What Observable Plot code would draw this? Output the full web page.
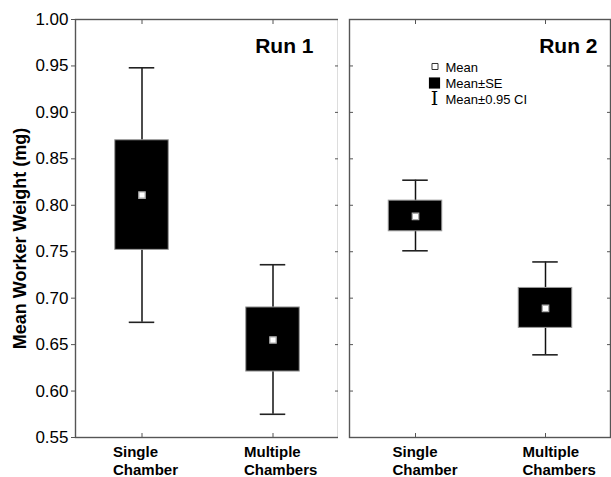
<!DOCTYPE html>
<html>
<head>
<meta charset="utf-8">
<script src="https://cdn.jsdelivr.net/npm/d3@7"></script>
<script src="https://cdn.jsdelivr.net/npm/@observablehq/plot@0.6"></script>
<style>
  html, body { margin: 0; padding: 0; background: white; }
  #wrap { display: flex; flex-direction: row; width: 611px; height: 477px; }
  #wrap svg { overflow: visible; }
</style>
</head>
<body>
<div id="wrap"></div>
<script>
// ---- data ----
const runs = ["Run 1", "Run 2"];
const categories = ["Single Chamber", "Multiple Chambers"];
// order: Run 1 Single, Run 1 Multiple, Run 2 Single, Run 2 Multiple
const means  = [0.811, 0.655, 0.788, 0.689];
const seLow  = [0.752, 0.621, 0.772, 0.668];
const seHigh = [0.870, 0.690, 0.805, 0.711];
const ciLow  = [0.674, 0.575, 0.751, 0.639];
const ciHigh = [0.948, 0.736, 0.827, 0.739];
const yTicks = [0.55, 0.60, 0.65, 0.70, 0.75, 0.80, 0.85, 0.90, 0.95, 1.00];
const yLabel = "Mean Worker Weight (mg)";
const legendLabels = ["Mean", "Mean±SE", "Mean±0.95 CI"];

const rows = runs.flatMap((run, i) => categories.map((cat, j) => ({
  run, cat,
  mean: means[i * 2 + j],
  seLo: seLow[i * 2 + j], seHi: seHigh[i * 2 + j],
  ciLo: ciLow[i * 2 + j], ciHi: ciHigh[i * 2 + j]
})));

const FONT = "'Liberation Sans', Arial, Helvetica, sans-serif";
const AX = "#555";
const none = () => "";

function panel(run, opt) {
  const data = rows.filter(d => d.run === run);
  const bw = (opt.width - opt.marginLeft - opt.marginRight) / 2;
  const boxInset = (bw - 54) / 2;
  const capInset = (bw - 26) / 2;
  const marks = [
    Plot.frame({stroke: AX, strokeWidth: 1.4}),
    // left y ticks: outward with labels on first panel, inward otherwise
    opt.first
      ? Plot.axisY({anchor: "left", ticks: yTicks, tickSize: 4, tickPadding: 3,
          tickFormat: d3.format(".2f"), label: null, fontSize: 17, stroke: AX})
      : Plot.axisY({anchor: "left", ticks: yTicks, tickSize: 4, dx: 4,
          tickFormat: none, label: null, stroke: AX}),
    Plot.axisY({anchor: "right", ticks: yTicks, tickSize: 4, dx: -4,
      tickFormat: none, label: null, stroke: AX}),
    Plot.axisX({anchor: "top", tickSize: 4, dy: 4, tickFormat: none, label: null, stroke: AX}),
    Plot.axisX({anchor: "bottom", tickSize: 4, dy: -4, tickFormat: none, label: null, stroke: AX}),
    // category labels (two lines, left-aligned block)
    Plot.text(categories, {x: d => d, text: d => d.replace(" ", "\n"), frameAnchor: "bottom",
      dy: 7, dx: opt.labelDx, textAnchor: "start", lineAnchor: "top", lineHeight: 1.2,
      fontSize: 15, fontWeight: "bold"}),
    // CI whiskers
    Plot.ruleX(data, {x: "cat", y1: "ciLo", y2: "ciHi", stroke: "#111", strokeWidth: 1.5}),
    Plot.tickY(data, {x: "cat", y: "ciHi", stroke: "#222", strokeWidth: 1.6,
      insetLeft: capInset, insetRight: capInset}),
    Plot.tickY(data, {x: "cat", y: "ciLo", stroke: "#222", strokeWidth: 1.6,
      insetLeft: capInset, insetRight: capInset}),
    // SE boxes
    Plot.barY(data, {x: "cat", y1: "seLo", y2: "seHi", fill: "black", stroke: "#999",
      strokeWidth: 1, insetLeft: boxInset, insetRight: boxInset}),
    // means
    Plot.dot(data, {x: "cat", y: "mean", symbol: "square", r: 3.6, fill: "white",
      stroke: "#aaa", strokeWidth: 1.3}),
    // run title
    Plot.text([run], {text: d => d, frameAnchor: "top-right", dx: opt.runDx, dy: 33,
      textAnchor: "end", lineAnchor: "bottom", fontSize: 21, fontWeight: "bold"})
  ];
  if (opt.first) {
    marks.push(Plot.text([yLabel], {text: d => d, frameAnchor: "left", rotate: -90,
      textAnchor: "middle", lineAnchor: "middle",
      dx: -55, dy: 10, fontSize: 18, fontWeight: "bold"}));
  }
  if (opt.legend) {
    const lx = 85, tx = 96;
    marks.push(
      Plot.dot([0], {frameAnchor: "top-left", dx: lx + 0.5, dy: 47, symbol: "square", r: 3.4,
        fill: "white", stroke: "#333", strokeWidth: 1}),
      Plot.dot([0], {frameAnchor: "top-left", dx: lx, dy: 63.5, symbol: "square", r: 6.3,
        fill: "black", stroke: "none"}),
      Plot.text(["I"], {text: d => d, frameAnchor: "top-left", dx: lx, dy: 85.5,
        textAnchor: "middle", lineAnchor: "bottom", fontSize: 19,
        fontFamily: "'DejaVu Serif', 'Liberation Serif', serif"}),
      Plot.text([legendLabels[0]], {text: d => d, frameAnchor: "top-left", dx: tx, dy: 52,
        textAnchor: "start", lineAnchor: "bottom", fontSize: 13}),
      Plot.text([legendLabels[1]], {text: d => d, frameAnchor: "top-left", dx: tx, dy: 68,
        textAnchor: "start", lineAnchor: "bottom", fontSize: 13}),
      Plot.text([legendLabels[2]], {text: d => d, frameAnchor: "top-left", dx: tx, dy: 84,
        textAnchor: "start", lineAnchor: "bottom", fontSize: 13})
    );
  }
  return Plot.plot({
    width: opt.width, height: 477,
    marginLeft: opt.marginLeft, marginRight: opt.marginRight,
    marginTop: 19, marginBottom: 40,
    style: {fontFamily: FONT, fontSize: "16px", color: "black", background: "white", overflow: "visible"},
    x: {type: "band", domain: categories, padding: 0, axis: null},
    y: {domain: [0.55, 1.0], axis: null},
    marks
  });
}

const wrap = document.getElementById("wrap");
wrap.append(panel("Run 1", {width: 338, marginLeft: 75, marginRight: 0, first: true,
  labelDx: -29, runDx: -25}));
wrap.append(panel("Run 2", {width: 273, marginLeft: 11, marginRight: 1, legend: true,
  labelDx: -23, runDx: -13}));
</script>
</body>
</html>
